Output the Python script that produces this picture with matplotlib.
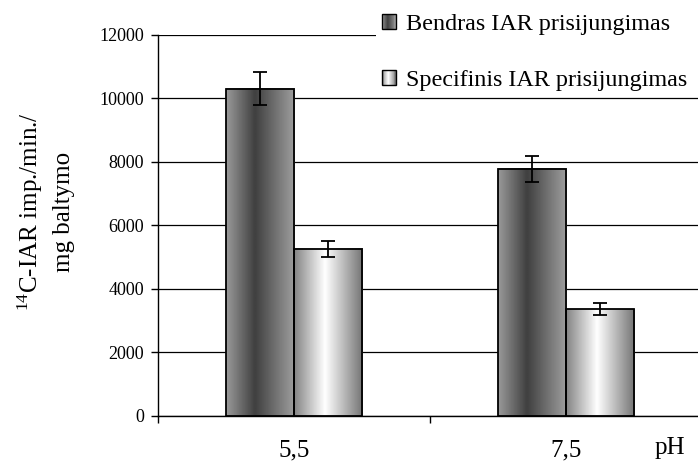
import matplotlib
matplotlib.use('Agg')
import matplotlib.pyplot as plt
import numpy as np
from matplotlib.patches import Rectangle, Patch
from matplotlib.legend_handler import HandlerBase

plt.rcParams['font.family'] = ['Liberation Serif', 'DejaVu Serif']
plt.rcParams['mathtext.fontset'] = 'custom'
plt.rcParams['mathtext.rm'] = 'Liberation Serif'

# pH groups and binding values (imp./min./mg protein)
ph_labels = ['5,5', '7,5']
total_binding = [10300, 7780]
total_err = [520, 400]
specific_binding = [5260, 3360]
specific_err = [250, 190]
series_names = ['Bendras IAR prisijungimas', 'Specifinis IAR prisijungimas']

# horizontal shading profiles for the two bar fills (position, grey level)
dark_stops = ([0.0, 0.42, 1.0], [0.60, 0.25, 0.62])
light_stops = ([0.0, 0.45, 1.0], [0.52, 1.0, 0.46])


def shade_row(stops, n=64):
    xs = np.linspace(0, 1, n)
    return np.interp(xs, stops[0], stops[1])


class GradientHandler(HandlerBase):
    def __init__(self, stops):
        super().__init__()
        self.stops = stops

    def create_artists(self, legend, orig_handle, xdescent, ydescent,
                       width, height, fontsize, trans):
        n = 16
        row = shade_row(self.stops, n)
        arts = []
        for i in range(n):
            arts.append(Rectangle((-xdescent + i * width / n, -ydescent), width / n, height,
                                  facecolor=str(row[i]), edgecolor='none', transform=trans))
        arts.append(Rectangle((-xdescent, -ydescent), width, height, fill=False,
                              edgecolor='black', lw=1.0, transform=trans))
        return arts


fig = plt.figure(figsize=(6.98, 4.66), dpi=100)
ax = fig.add_axes([0.2264, 0.1073, 0.7794, 0.8176])

x = np.arange(len(ph_labels))
w = 0.25
bars_total = ax.bar(x - w / 2, total_binding, w, facecolor='none', edgecolor='black',
                    lw=1.3, zorder=3)
bars_spec = ax.bar(x + w / 2, specific_binding, w, facecolor='none', edgecolor='black',
                   lw=1.3, zorder=3)

for bars, stops in [(bars_total, dark_stops), (bars_spec, light_stops)]:
    row = shade_row(stops)[np.newaxis, :]
    for b in bars:
        x0 = b.get_x()
        ax.imshow(row, extent=(x0, x0 + b.get_width(), 0, b.get_height()),
                  aspect='auto', cmap='gray', vmin=0, vmax=1, zorder=2,
                  interpolation='bilinear')

ax.errorbar(x - w / 2, total_binding, yerr=total_err, fmt='none', ecolor='black',
            elinewidth=1.3, capsize=5, capthick=1.3, zorder=4)
ax.errorbar(x + w / 2, specific_binding, yerr=specific_err, fmt='none', ecolor='black',
            elinewidth=1.3, capsize=5, capthick=1.3, zorder=4)

ax.set_xlim(-0.5, 1.5)
ax.set_ylim(0, 12000)
ax.set_yticks(np.arange(0, 12001, 2000))
ax.tick_params(axis='y', labelsize=13, length=5, width=1, pad=5, direction='out')
ax.yaxis.grid(True, color='black', lw=0.9)
ax.set_axisbelow(True)

ax.set_xticks(x)
ax.set_xticklabels(ph_labels, fontsize=18)
ax.tick_params(axis='x', which='major', length=0, pad=17)
ax.set_xticks([-0.5, 0.5, 1.5], minor=True)
ax.tick_params(axis='x', which='minor', length=5, width=1, direction='out')

for s in ['top', 'right']:
    ax.spines[s].set_visible(False)
ax.spines['left'].set_linewidth(1)
ax.spines['bottom'].set_linewidth(1)

ax.text(0.941, -0.083, 'pH', transform=ax.transAxes, fontsize=18,
        ha='center', va='center')

fig.text(0.044, 0.545, r'$\mathregular{^{14}}$C-IAR imp./min./', rotation=90,
         fontsize=18, ha='center', va='center')
fig.text(0.091, 0.545, 'mg baltymo', rotation=90, fontsize=18,
         ha='center', va='center')

# white block behind the legend hides the top grid line there
fig.patches.append(Rectangle((376 / 698, 1 - 60 / 466), 1, 60 / 466,
                             transform=fig.transFigure, facecolor='white',
                             edgecolor='none', zorder=5))

h1 = Patch()
h2 = Patch()
leg = fig.legend([h1, h2], series_names, loc='upper left',
                 bbox_to_anchor=(368 / 698, 1.0), fontsize=17.4, frameon=False,
                 handlelength=0.6, handleheight=0.6, handletextpad=0.4,
                 labelspacing=1.45, borderpad=0.57, borderaxespad=0.0,
                 handler_map={h1: GradientHandler(dark_stops), h2: GradientHandler(light_stops)})
leg.set_zorder(10)

fig.savefig('out.png', dpi=100)
